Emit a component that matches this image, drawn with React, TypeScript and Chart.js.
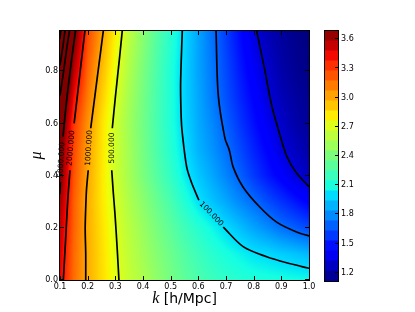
import React, { useEffect, useRef } from "react";
import { Chart, registerables } from "chart.js";

Chart.register(...registerables);

const FONT = '"DejaVu Sans", "Liberation Sans", sans-serif';
const MATH_FONT = '"Liberation Serif", "DejaVu Serif", serif';

// ---- axes ----
const K_MIN = 0.1;
const K_MAX = 1.0;
const MU_MIN = 0.0;
const MU_MAX = 0.955;
const K_TICKS = [0.1, 0.2, 0.3, 0.4, 0.5, 0.6, 0.7, 0.8, 0.9, 1.0];
const MU_TICKS = [0.0, 0.2, 0.4, 0.6, 0.8];
const CB_TICKS = [1.2, 1.5, 1.8, 2.1, 2.4, 2.7, 3.0, 3.3, 3.6];
const V_MIN = 1.115;
const V_MAX = 3.685;
const CB_BANDS = 25;

// ---- colour field (log10 values) on a k x mu grid ----
const K_GRID = [0.10, 0.15, 0.20, 0.25, 0.30, 0.35, 0.40, 0.45, 0.50, 0.55, 0.60, 0.65, 0.70, 0.75, 0.80, 0.85, 0.90, 0.95, 1.00];
const MU_GRID = [0.0, 0.1, 0.2, 0.3, 0.4, 0.5, 0.6, 0.7, 0.8, 0.9, 0.955];
const ROW_MU00 = [3.45, 3.16, 2.985, 2.855, 2.73, 2.63, 2.55, 2.46, 2.38, 2.31, 2.25, 2.20, 2.16, 2.13, 2.11, 2.10, 2.09, 2.08, 2.07];
const ROW_MU01 = [3.49, 3.17, 2.985, 2.855, 2.72, 2.61, 2.52, 2.43, 2.35, 2.27, 2.20, 2.14, 2.09, 2.05, 2.01, 1.985, 1.955, 1.93, 1.90];
const ROW_MU02 = [3.54, 3.19, 2.985, 2.845, 2.705, 2.59, 2.49, 2.39, 2.30, 2.21, 2.13, 2.06, 1.99, 1.92, 1.85, 1.79, 1.72, 1.67, 1.62];
const ROW_MU03 = [3.62, 3.20, 2.985, 2.83, 2.685, 2.56, 2.45, 2.34, 2.24, 2.12, 2.01, 1.93, 1.86, 1.78, 1.71, 1.63, 1.56, 1.49, 1.42];
const ROW_MU04 = [3.72, 3.23, 3.00, 2.83, 2.66, 2.53, 2.40, 2.28, 2.17, 2.04, 1.94, 1.86, 1.77, 1.68, 1.58, 1.49, 1.41, 1.32, 1.25];
const ROW_MU05 = [3.75, 3.26, 3.02, 2.84, 2.66, 2.52, 2.38, 2.25, 2.13, 2.00, 1.89, 1.81, 1.72, 1.62, 1.52, 1.43, 1.32, 1.26, 1.20];
const ROW_MU06 = [3.85, 3.31, 3.06, 2.85, 2.66, 2.51, 2.37, 2.24, 2.11, 1.98, 1.87, 1.78, 1.68, 1.57, 1.47, 1.37, 1.28, 1.21, 1.17];
const ROW_MU07 = [4.00, 3.42, 3.12, 2.90, 2.70, 2.53, 2.38, 2.24, 2.11, 1.97, 1.86, 1.75, 1.64, 1.53, 1.43, 1.32, 1.24, 1.19, 1.15];
const ROW_MU08 = [4.30, 3.56, 3.18, 2.95, 2.74, 2.56, 2.40, 2.25, 2.11, 1.97, 1.85, 1.74, 1.62, 1.50, 1.39, 1.29, 1.21, 1.16, 1.13];
const ROW_MU09 = [4.50, 3.69, 3.24, 3.00, 2.78, 2.59, 2.43, 2.27, 2.13, 1.98, 1.85, 1.73, 1.60, 1.47, 1.35, 1.25, 1.19, 1.15, 1.12];
const ROW_MU095 = [4.80, 3.78, 3.26, 3.03, 2.81, 2.61, 2.44, 2.28, 2.14, 1.98, 1.85, 1.72, 1.59, 1.46, 1.33, 1.24, 1.18, 1.14, 1.11];
const HEAT_ROWS = [ROW_MU00, ROW_MU01, ROW_MU02, ROW_MU03, ROW_MU04, ROW_MU05, ROW_MU06, ROW_MU07, ROW_MU08, ROW_MU09, ROW_MU095];

// ---- contour lines (k, mu), null = gap for inline label ----
const C50000_K = [0.1025, 0.1];
const C50000_MU = [0.955, 0.925];
const C20000_K = [0.118, 0.111, 0.1];
const C20000_MU = [0.955, 0.9, 0.824];
const C10000_K = [0.1343, 0.126, 0.113, 0.1];
const C10000_MU = [0.955, 0.9, 0.8, 0.708];
const C5000_K = [0.156, 0.145, 0.1325, 0.121, 0.111, null, 0.1015, 0.0995];
const C5000_MU = [0.955, 0.87, 0.766, 0.66, 0.55, null, 0.375, 0.33];
const C2000_K = [0.190, 0.175, 0.162, 0.151, null, 0.136, 0.128, 0.120, 0.112];
const C2000_MU = [0.955, 0.82, 0.70, 0.601, null, 0.421, 0.306, 0.15, 0.0];
const C1000_K = [0.2565, 0.240, 0.223, 0.211, null, 0.202, 0.196, 0.194, 0.191, 0.193, 0.193];
const C1000_MU = [0.955, 0.82, 0.68, 0.582, null, 0.421, 0.35, 0.306, 0.2, 0.1, 0.0];
const C500_K = [0.325, 0.315, 0.300, 0.289, null, 0.287, 0.293, 0.299, 0.307, 0.313];
const C500_MU = [0.955, 0.85, 0.70, 0.582, null, 0.421, 0.33, 0.249, 0.115, 0.0];
const C100_K = [0.542, 0.536, 0.538, 0.542, 0.558, 0.576, 0.602, null, 0.690, 0.762, 0.847, 0.919, 1.0];
const C100_MU = [0.955, 0.755, 0.624, 0.563, 0.433, 0.372, 0.306, null, 0.203, 0.128, 0.089, 0.066, 0.045];
const C50_K = [0.664, 0.672, 0.696, 0.712, 0.726, 0.762, 0.822, 0.883, 0.955, 1.0];
const C50_MU = [0.955, 0.709, 0.544, 0.498, 0.433, 0.356, 0.280, 0.222, 0.184, 0.169];
const C20_K = [0.811, 0.841, 0.865, 0.895, 0.921, 0.955, 1.0];
const C20_MU = [0.955, 0.801, 0.670, 0.556, 0.471, 0.410, 0.358];
const CONTOURS: [(number | null)[], (number | null)[]][] = [
  [C50000_K, C50000_MU], [C20000_K, C20000_MU], [C10000_K, C10000_MU],
  [C5000_K, C5000_MU], [C2000_K, C2000_MU], [C1000_K, C1000_MU],
  [C500_K, C500_MU], [C100_K, C100_MU], [C50_K, C50_MU], [C20_K, C20_MU],
];

// ---- inline contour labels ----
const LABEL_TEXT = ["5000.000", "2000.000", "1000.000", "500.000", "100.000"];
const LABEL_K = [0.1055, 0.1398, 0.2048, 0.288, 0.6467];
const LABEL_MU = [0.46, 0.506, 0.506, 0.506, 0.253];
const LABEL_ANGLE = [-87, -85, -87, -90, 46];

// ---- matplotlib "jet" ----
const JET_R = [[0, 0], [0.35, 0], [0.66, 1], [0.89, 1], [1, 0.5]];
const JET_G = [[0, 0], [0.125, 0], [0.375, 1], [0.64, 1], [0.91, 0], [1, 0]];
const JET_B = [[0, 0.5], [0.11, 1], [0.34, 1], [0.65, 0], [1, 0]];
function seg(p: number[][], t: number) {
  for (let i = 1; i < p.length; i++) {
    if (t <= p[i][0]) {
      const [x0, y0] = p[i - 1];
      const [x1, y1] = p[i];
      return y0 + ((y1 - y0) * (t - x0)) / (x1 - x0);
    }
  }
  return p[p.length - 1][1];
}
function jet(v: number): [number, number, number] {
  let t = (v - V_MIN) / (V_MAX - V_MIN);
  t = Math.max(0, Math.min(1, t));
  return [Math.round(seg(JET_R, t) * 255), Math.round(seg(JET_G, t) * 255), Math.round(seg(JET_B, t) * 255)];
}

const heatmapPlugin = {
  id: "heatmap",
  beforeDatasetsDraw(chart: any) {
    const { ctx, chartArea: a, scales } = chart;
    const xs = scales.x;
    const ys = scales.y;
    const w = Math.round(a.right - a.left);
    const h = Math.round(a.bottom - a.top);
    const off = document.createElement("canvas");
    off.width = w;
    off.height = h;
    const octx = off.getContext("2d")!;
    const img = octx.createImageData(w, h);
    const gx = K_GRID.map((k) => xs.getPixelForValue(k));
    const gy = MU_GRID.map((m) => ys.getPixelForValue(m));
    for (let j = 0; j < h; j++) {
      const py = a.top + j + 0.5;
      let r = 0;
      while (r < gy.length - 2 && py < gy[r + 1]) r++;
      const ty = Math.max(0, Math.min(1, (gy[r] - py) / (gy[r] - gy[r + 1])));
      const r0 = HEAT_ROWS[r];
      const r1 = HEAT_ROWS[r + 1];
      for (let i = 0; i < w; i++) {
        const px = a.left + i + 0.5;
        let c = 0;
        while (c < gx.length - 2 && px > gx[c + 1]) c++;
        const tx = Math.max(0, Math.min(1, (px - gx[c]) / (gx[c + 1] - gx[c])));
        const v0 = r0[c] * (1 - tx) + r0[c + 1] * tx;
        const v1 = r1[c] * (1 - tx) + r1[c + 1] * tx;
        const v = v0 * (1 - ty) + v1 * ty;
        const [R, G, B] = jet(v);
        const o = (j * w + i) * 4;
        img.data[o] = R;
        img.data[o + 1] = G;
        img.data[o + 2] = B;
        img.data[o + 3] = 255;
      }
    }
    octx.putImageData(img, 0, 0);
    ctx.drawImage(off, a.left, a.top);
  },
  afterDatasetsDraw(chart: any) {
    const { ctx, chartArea: a, scales } = chart;
    const xs = scales.x;
    const ys = scales.y;
    // contour labels
    ctx.save();
    ctx.fillStyle = "#000";
    ctx.font = `7.5px ${FONT}`;
    ctx.textAlign = "center";
    ctx.textBaseline = "middle";
    LABEL_TEXT.forEach((t, i) => {
      ctx.save();
      ctx.translate(xs.getPixelForValue(LABEL_K[i]), ys.getPixelForValue(LABEL_MU[i]));
      ctx.rotate((LABEL_ANGLE[i] * Math.PI) / 180);
      ctx.fillText(t, 0, 0);
      ctx.restore();
    });
    ctx.restore();
    // inward ticks and frame
    ctx.save();
    ctx.strokeStyle = "#000";
    ctx.lineWidth = 1;
    ctx.beginPath();
    K_TICKS.forEach((k) => {
      const px = Math.round(xs.getPixelForValue(k)) + 0.5;
      ctx.moveTo(px, a.bottom);
      ctx.lineTo(px, a.bottom - 4);
      ctx.moveTo(px, a.top);
      ctx.lineTo(px, a.top + 4);
    });
    MU_TICKS.forEach((m) => {
      const py = Math.round(ys.getPixelForValue(m)) - 0.5;
      ctx.moveTo(a.left, py);
      ctx.lineTo(a.left + 4, py);
      ctx.moveTo(a.right, py);
      ctx.lineTo(a.right - 4, py);
    });
    ctx.stroke();
    ctx.strokeRect(Math.round(a.left) - 0.5, Math.round(a.top) - 0.5, Math.round(a.right - a.left) + 1, Math.round(a.bottom - a.top) + 1);
    ctx.restore();
  },
  afterDraw(chart: any) {
    const { ctx, chartArea: a } = chart;
    const part1 = "k";
    const part2 = " [h/Mpc]";
    ctx.save();
    ctx.fillStyle = "#000";
    ctx.textBaseline = "middle";
    ctx.textAlign = "left";
    const f1 = `italic 16px ${MATH_FONT}`;
    const f2 = `14px ${FONT}`;
    ctx.font = f1;
    const w1 = ctx.measureText(part1).width;
    ctx.font = f2;
    const w2 = ctx.measureText(part2).width;
    const x0 = (a.left + a.right) / 2 - (w1 + w2) / 2;
    const y0 = 299;
    ctx.font = f1;
    ctx.fillText(part1, x0, y0);
    ctx.font = f2;
    ctx.fillText(part2, x0 + w1, y0);
    ctx.restore();
  },
};

const colorbarPlugin = {
  id: "cbframe",
  afterDraw(chart: any) {
    const { ctx, chartArea: a, scales } = chart;
    ctx.save();
    ctx.strokeStyle = "#000";
    ctx.lineWidth = 1;
    ctx.beginPath();
    CB_TICKS.forEach((v) => {
      const py = Math.round(scales.y.getPixelForValue(v)) - 0.5;
      ctx.moveTo(a.right, py);
      ctx.lineTo(a.right - 3, py);
    });
    ctx.stroke();
    ctx.strokeRect(Math.round(a.left) - 0.5, Math.round(a.top) - 0.5, Math.round(a.right - a.left) + 1, Math.round(a.bottom - a.top) + 1);
    ctx.restore();
  },
};

export default function App() {
  const mainRef = useRef<HTMLCanvasElement>(null);
  const cbRef = useRef<HTMLCanvasElement>(null);

  useEffect(() => {
    const datasets = CONTOURS.map(([ks, mus]) => ({
      data: ks.map((k, i) => (k === null || mus[i] === null ? { x: null, y: null } : { x: k, y: mus[i] })),
      showLine: true,
      borderColor: "#000",
      borderWidth: 1.7,
      pointRadius: 0,
      pointHoverRadius: 0,
      fill: false,
      tension: 0.3,
      spanGaps: false,
    }));

    const main = new Chart(mainRef.current!, {
      type: "scatter",
      data: { datasets: datasets as any },
      options: {
        animation: false,
        responsive: false,
        events: [],
        layout: { padding: { left: 0, top: 31, right: 106, bottom: 0 } },
        plugins: { legend: { display: false }, tooltip: { enabled: false } },
        scales: {
          x: {
            type: "linear",
            min: K_MIN,
            max: K_MAX,
            afterFit: (s: any) => { s.height = 32; },
            afterBuildTicks: (s: any) => { s.ticks = K_TICKS.map((v) => ({ value: v })); },
            grid: { display: false, drawTicks: false },
            border: { display: false },
            ticks: {
              autoSkip: false,
              maxRotation: 0,
              padding: 2,
              color: "#000",
              font: { family: FONT, size: 8 },
              callback: (v: any) => Number(v).toFixed(1),
            },
          },
          y: {
            type: "linear",
            min: MU_MIN,
            max: MU_MAX,
            afterFit: (s: any) => { s.width = 60; },
            afterBuildTicks: (s: any) => { s.ticks = MU_TICKS.map((v) => ({ value: v })); },
            grid: { display: false, drawTicks: false },
            border: { display: false },
            ticks: {
              autoSkip: false,
              padding: 2,
              color: "#000",
              font: { family: FONT, size: 8 },
              callback: (v: any) => Number(v).toFixed(1),
            },
            title: {
              display: true,
              text: "μ",
              color: "#000",
              font: { family: MATH_FONT, size: 16, style: "italic", lineHeight: 1.2 },
              padding: { top: 27, bottom: 0 },
            },
          },
        },
      },
      plugins: [heatmapPlugin],
    });

    const step = (V_MAX - V_MIN) / CB_BANDS;
    const bands = Array.from({ length: CB_BANDS }, (_, i) => [V_MIN + i * step, V_MIN + (i + 1) * step]);
    const cb = new Chart(cbRef.current!, {
      type: "bar",
      data: {
        labels: [""],
        datasets: bands.map(([lo, hi]) => {
          const [R, G, B] = jet((lo + hi) / 2);
          return {
            data: [[lo, hi + step * 0.02]] as any,
            backgroundColor: `rgb(${R},${G},${B})`,
            borderWidth: 0,
            barPercentage: 1,
            categoryPercentage: 1,
            grouped: false,
          };
        }),
      },
      options: {
        animation: false,
        responsive: false,
        events: [],
        layout: { padding: { left: 25, top: 31, right: 12, bottom: 31 } },
        plugins: { legend: { display: false }, tooltip: { enabled: false } },
        scales: {
          x: { display: false },
          y: {
            position: "right",
            min: V_MIN,
            max: V_MAX,
            afterFit: (s: any) => { s.width = 30; },
            afterBuildTicks: (s: any) => { s.ticks = CB_TICKS.map((v) => ({ value: v })); },
            grid: { display: false, drawTicks: false },
            border: { display: false },
            ticks: {
              autoSkip: false,
              padding: 3,
              color: "#000",
              font: { family: FONT, size: 8 },
              callback: (v: any) => Number(v).toFixed(1),
            },
          },
        },
      },
      plugins: [colorbarPlugin],
    });

    return () => {
      main.destroy();
      cb.destroy();
    };
  }, []);

  return (
    <div style={{ position: "absolute", left: 0, top: 0, width: 415, height: 312, background: "#fff" }}>
      <canvas ref={mainRef} width={415} height={312} style={{ position: "absolute", left: 0, top: 0, width: 415, height: 312 }} />
      <canvas ref={cbRef} width={80} height={312} style={{ position: "absolute", left: 300, top: 0, width: 80, height: 312 }} />
    </div>
  );
}
